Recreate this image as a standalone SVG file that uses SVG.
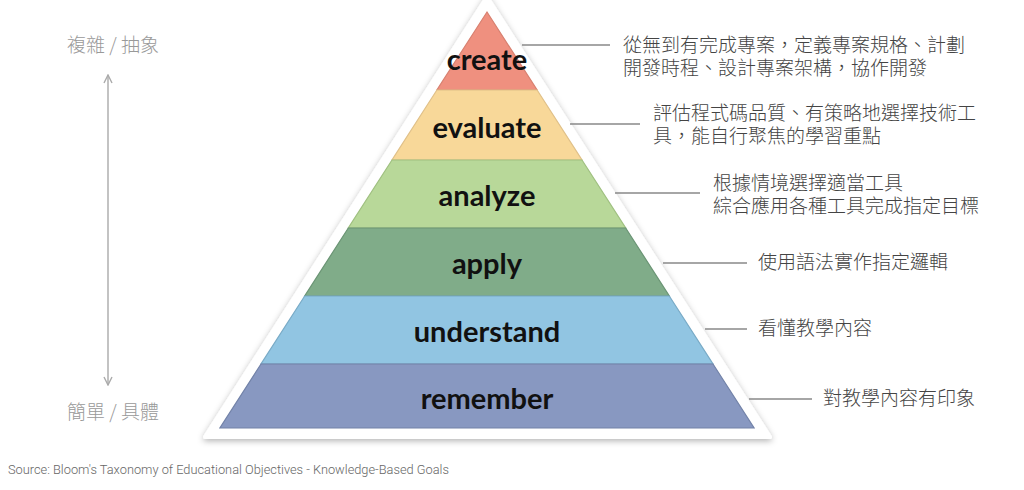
<svg xmlns="http://www.w3.org/2000/svg" width="1024" height="490" viewBox="0 0 1024 490">
<defs>
<filter id="sh" x="-10%" y="-10%" width="120%" height="120%">
<feDropShadow dx="0" dy="2" stdDeviation="3" flood-color="#000" flood-opacity="0.3"/>
</filter>
<marker id="ah" viewBox="0 0 10 10" refX="9" refY="5" markerWidth="10" markerHeight="10" markerUnits="userSpaceOnUse" orient="auto-start-reverse">
<path d="M1,1 L9,5 L1,9" fill="none" stroke="#aaa" stroke-width="1.4"/>
</marker>
</defs>
<style>
.lbl{font-family:Lato,"Open Sans",sans-serif;font-weight:700;font-size:29px;fill:#111;text-anchor:middle}
.desc{font-family:"Noto Sans CJK TC","Noto Sans",sans-serif;font-weight:300;font-size:19px;fill:#444}
.side{font-family:"Noto Sans CJK TC","Noto Sans",sans-serif;font-weight:300;font-size:19px;fill:#999}
.conn{stroke:#888;stroke-width:1.3;fill:none}
.band{stroke-width:1.2}
</style>
<rect width="1024" height="490" fill="#fff"/>
<g id="pyramid-frame">
<polygon points="487,-3 770,437 205,437" fill="#fff" stroke="#fff" stroke-width="4" stroke-linejoin="round" filter="url(#sh)"/>
</g>
<g id="node-create">
<polygon class="band" points="487,12 537.1,90 436.9,90" fill="#EF907F" stroke="#D88070"/>
<text class="lbl" x="487" y="70">create</text>
<text class="desc" x="623" y="52">從無到有完成專案，定義專案規格、計劃<tspan x="623" dy="23">開發時程、設計專案架構，協作開發</tspan></text>
</g>
<g id="node-evaluate">
<polygon class="band" points="436.9,90 537.1,90 582,160 392,160" fill="#F8D899" stroke="#E0C088"/>
<text class="lbl" x="487" y="138">evaluate</text>
<text class="desc" x="653" y="120">評估程式碼品質、有策略地選擇技術工<tspan x="653" dy="23">具，能自行聚焦的學習重點</tspan></text>
</g>
<g id="node-analyze">
<polygon class="band" points="392,160 582,160 625.7,228 348.3,228" fill="#B8D899" stroke="#9FC080"/>
<text class="lbl" x="487" y="206">analyze</text>
<text class="desc" x="713" y="190">根據情境選擇適當工具<tspan x="713" dy="23">綜合應用各種工具完成指定目標</tspan></text>
</g>
<g id="node-apply">
<polygon class="band" points="348.3,228 625.7,228 669.3,296 304.7,296" fill="#80AC89" stroke="#6A9474"/>
<text class="lbl" x="487" y="274">apply</text>
<text class="desc" x="758" y="269">使用語法實作指定邏輯</text>
</g>
<g id="node-understand">
<polygon class="band" points="304.7,296 669.3,296 713,364 261,364" fill="#91C5E2" stroke="#78AAC6"/>
<text class="lbl" x="487" y="342">understand</text>
<text class="desc" x="758" y="335">看懂教學內容</text>
</g>
<g id="node-remember">
<polygon class="band" points="261,364 713,364 754.1,428 219.9,428" fill="#8898C1" stroke="#7282A8"/>
<text class="lbl" x="487" y="409">remember</text>
<text class="desc" x="823" y="405">對教學內容有印象</text>
</g>
<g id="connectors">
<line class="conn" x1="522" y1="45" x2="610" y2="45"/>
<line class="conn" x1="570" y1="124" x2="640" y2="124"/>
<line class="conn" x1="615" y1="193" x2="700" y2="193"/>
<line class="conn" x1="663" y1="263" x2="747" y2="263"/>
<line class="conn" x1="705" y1="329" x2="747" y2="329"/>
<line class="conn" x1="749" y1="399" x2="812" y2="399"/>
</g>
<g id="axis">
<text class="side" x="67" y="52">複雜 / 抽象</text>
<text class="side" x="67" y="419">簡單 / 具體</text>
<line x1="108" y1="75" x2="108" y2="385" stroke="#aaa" stroke-width="1.4" marker-start="url(#ah)" marker-end="url(#ah)"/>
</g>
<g id="source">
<text x="8" y="474" font-family="Roboto,'Liberation Sans',sans-serif" font-weight="300" font-size="12.8" fill="#666">Source: Bloom's Taxonomy of Educational Objectives - Knowledge-Based Goals</text>
</g>
</svg>
